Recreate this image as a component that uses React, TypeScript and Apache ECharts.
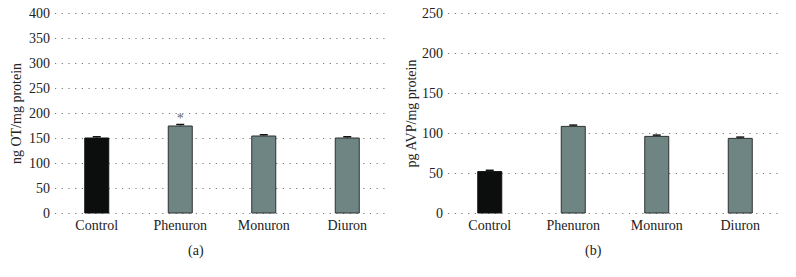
import React, { useEffect, useRef } from "react";
import * as echarts from "echarts";

const categories = ["Control", "Phenuron", "Monuron", "Diuron"];
const otValues = [152, 176, 156, 152];
const otErrors = [1.5, 2, 1.5, 1.5];
const avpValues = [53, 109.5, 97, 94.5];
const avpErrors = [1, 1, 1, 1];
const otTicks = { min: 0, max: 400, interval: 50 };
const avpTicks = { min: 0, max: 250, interval: 50 };
const significance = ["", "*", "", ""];

const FONT = "'Liberation Serif', 'DejaVu Serif', serif";
const TEXT = "#222";
const BAR_GRAY = "#6f8584";
const BAR_BLACK = "#0b0e0d";
const FS = 14;

function barData(values: number[], marks: string[]) {
  return values.map((v, i) => ({
    value: v,
    itemStyle: {
      color: i === 0 ? BAR_BLACK : BAR_GRAY,
      borderColor: i === 0 ? "#111" : "#2d3130",
      borderWidth: 1,
    },
    label: marks[i]
      ? {
          show: true,
          position: "top",
          formatter: marks[i],
          distance: 0,
          color: "#666",
          fontSize: 14,
          fontFamily: FONT,
        }
      : { show: false },
  }));
}

function errorRender(params: any, api: any) {
  const x = api.value(0);
  const m = api.value(1);
  const e = api.value(2);
  const base = api.coord([x, m]);
  const top = api.coord([x, m + e]);
  return {
    type: "group",
    children: [
      {
        type: "line",
        shape: { x1: base[0], y1: base[1], x2: base[0], y2: top[1] },
        style: { stroke: "#111", lineWidth: 1 },
      },
      {
        type: "line",
        shape: { x1: base[0] - 4, y1: top[1], x2: base[0] + 4, y2: top[1] },
        style: { stroke: "#111", lineWidth: 1.5 },
      },
    ],
  };
}

function yAxisBase(ticks: any, name: string, gridIndex: number, nameGap: number) {
  return {
    type: "value",
    gridIndex,
    min: ticks.min,
    max: ticks.max,
    interval: ticks.interval,
    name,
    nameLocation: "middle",
    nameGap,
    nameTextStyle: { fontFamily: FONT, fontSize: FS, color: TEXT },
    axisLine: { show: false },
    axisTick: { show: false },
    axisLabel: { fontFamily: FONT, fontSize: FS, color: TEXT, margin: 5 },
    splitLine: {
      show: true,
      lineStyle: { color: "#7a7a7a", width: 1, type: [1.2, 5.5] },
    },
  };
}

function xAxisBase(gridIndex: number) {
  return {
    type: "category",
    gridIndex,
    data: categories,
    axisLine: { show: false },
    axisTick: { show: false },
    axisLabel: { fontFamily: FONT, fontSize: FS, color: TEXT, margin: 5 },
  };
}

export default function App() {
  const ref = useRef<HTMLDivElement>(null);
  useEffect(() => {
    if (!ref.current) return;
    const chart = echarts.init(ref.current, undefined, { renderer: "svg" });
    chart.setOption({
      animation: false,
      backgroundColor: "#ffffff",
      grid: [
        { left: 55, top: 13.5, width: 334, height: 200 },
        { left: 448, top: 13.5, width: 334, height: 200 },
      ],
      xAxis: [xAxisBase(0), xAxisBase(1)],
      yAxis: [
        yAxisBase(otTicks, "ng OT/mg protein", 0, 32),
        yAxisBase(avpTicks, "pg AVP/mg protein", 1, 26),
      ],
      graphic: [
        {
          type: "text",
          left: 188,
          top: 243,
          style: { text: "(a)", fontFamily: FONT, fontSize: FS, fill: TEXT },
        },
        {
          type: "text",
          left: 585,
          top: 243,
          style: { text: "(b)", fontFamily: FONT, fontSize: FS, fill: TEXT },
        },
      ],
      series: [
        {
          type: "bar",
          xAxisIndex: 0,
          yAxisIndex: 0,
          barWidth: 25,
          data: barData(otValues, significance),
          z: 3,
        },
        {
          type: "custom",
          xAxisIndex: 0,
          yAxisIndex: 0,
          renderItem: errorRender,
          data: otValues.map((v, i) => [i, v, otErrors[i]]),
          z: 4,
        },
        {
          type: "bar",
          xAxisIndex: 1,
          yAxisIndex: 1,
          barWidth: 25,
          data: barData(avpValues, ["", "", "", ""]),
          z: 3,
        },
        {
          type: "custom",
          xAxisIndex: 1,
          yAxisIndex: 1,
          renderItem: errorRender,
          data: avpValues.map((v, i) => [i, v, avpErrors[i]]),
          z: 4,
        },
      ],
    });
    return () => chart.dispose();
  }, []);
  return (
    <div
      ref={ref}
      style={{ position: "absolute", left: 0, top: 0, width: 796, height: 277 }}
    />
  );
}
